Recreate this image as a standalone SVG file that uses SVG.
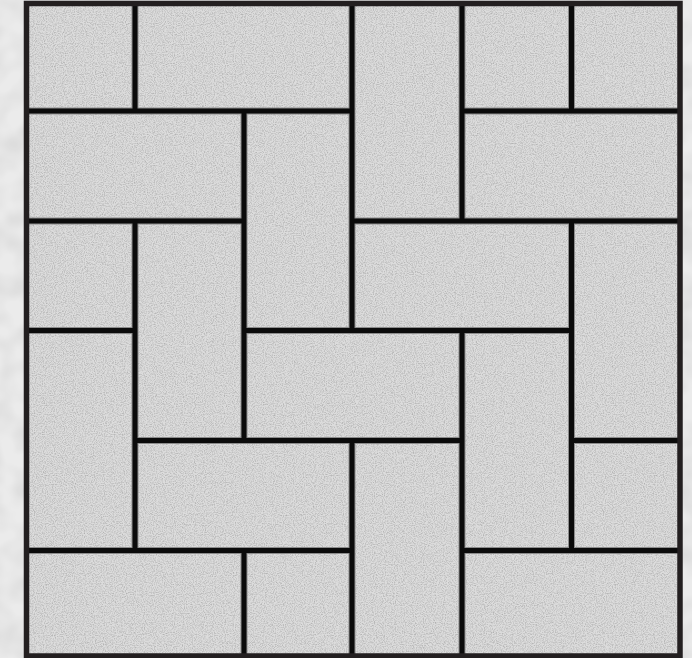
<svg xmlns="http://www.w3.org/2000/svg" width="692" height="658" viewBox="0 0 692 658">
  <defs>
    <filter id="grain" x="0" y="0" width="100%" height="100%" color-interpolation-filters="sRGB">
      <feTurbulence type="fractalNoise" baseFrequency="0.9" numOctaves="2" seed="7" result="n"/>
      <feColorMatrix in="n" type="matrix" values="0 0 0 0 0  0 0 0 0 0  0 0 0 0 0  0 0 0 0.4 -0.16" result="a"/>
      <feComposite in="a" in2="SourceGraphic" operator="in" result="spots"/>
      <feMerge><feMergeNode in="SourceGraphic"/><feMergeNode in="spots"/></feMerge>
    </filter>
    <filter id="grainLight" x="0" y="0" width="100%" height="100%" color-interpolation-filters="sRGB">
      <feTurbulence type="fractalNoise" baseFrequency="0.04" numOctaves="2" seed="2" result="n"/>
      <feColorMatrix in="n" type="matrix" values="0 0 0 0 0  0 0 0 0 0  0 0 0 0 0  0 0 0 0.12 -0.04" result="a"/>
      <feComposite in="a" in2="SourceGraphic" operator="in" result="spots"/>
      <feMerge><feMergeNode in="SourceGraphic"/><feMergeNode in="spots"/></feMerge>
    </filter>
  </defs>
  <style>
    .halo { fill: none; stroke: #8c8c8c; stroke-width: 7; }
    .line { fill: none; stroke: #0b0b0b; stroke-width: 5; }
    .frame { fill: none; stroke: #231f20; stroke-width: 5.5; }
  </style>

  <rect id="background" x="0" y="0" width="692" height="658" fill="#ebebeb" filter="url(#grainLight)"/>
  <g id="tiles">
    <rect id="paving" x="26.5" y="3.5" width="653.5" height="652.5" fill="#dcdcdc" filter="url(#grain)"/>
  </g>

  <g id="joints">
    <path class="halo" d="M135 3.5V111 M135 221V550.5 M244 111V440.5 M244 550.5V656 M352 3.5V330.5 M352 440.5V656 M462 3.5V221 M462 330.5V656 M571.5 3.5V111 M571.5 221V550.5 M26.5 111H352 M462 111H680 M26.5 221H244 M352 221H680 M26.5 330.5H135 M244 330.5H571.5 M135 440.5H462 M571.5 440.5H680 M26.5 550.5H352 M462 550.5H680"/>
    <path class="line" d="M135 3.5V111 M135 221V550.5 M244 111V440.5 M244 550.5V656 M352 3.5V330.5 M352 440.5V656 M462 3.5V221 M462 330.5V656 M571.5 3.5V111 M571.5 221V550.5 M26.5 111H352 M462 111H680 M26.5 221H244 M352 221H680 M26.5 330.5H135 M244 330.5H571.5 M135 440.5H462 M571.5 440.5H680 M26.5 550.5H352 M462 550.5H680"/>
    <rect class="frame" x="26.5" y="3.5" width="653.5" height="652.5"/>
  </g>
</svg>
